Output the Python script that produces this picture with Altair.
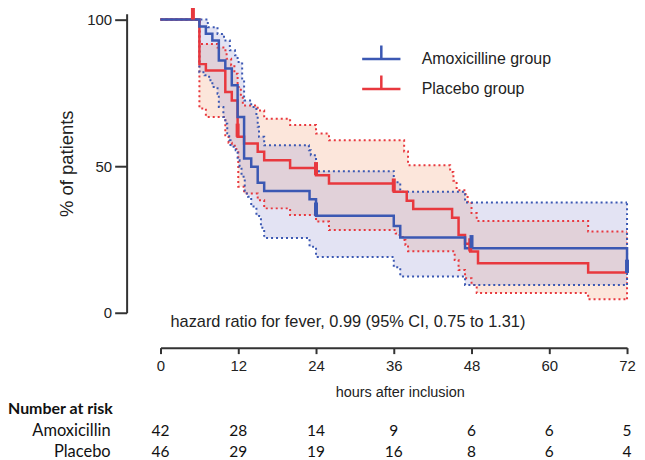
import altair as alt
import pandas as pd

# ---------------- data ----------------
# Kaplan-Meier step curves: hours after inclusion -> % of patients
amox_t = [0, 6, 7, 8, 9, 10, 11, 11.9, 12.9, 14, 15, 16, 23, 24, 36, 37, 47, 72]
amox_s = [100, 97.6, 95.2, 92.9, 86.0, 83.3, 77.6, 66.8, 52.6, 49.8, 44.3, 41.5, 38.7, 33.1, 29.6, 25.7, 22.0, 13.6]

plac_t = [0, 6, 7, 10, 11, 11.9, 12.9, 15, 16, 20, 24, 26, 36, 38, 39, 45, 46, 47, 47.8, 49, 66, 72]
plac_s = [100, 84.8, 82.6, 75.3, 72.4, 60.0, 57.7, 54.9, 52.0, 49.4, 46.9, 44.1, 41.3, 38.2, 35.4, 32.4, 26.5, 23.5, 20.9, 16.9, 13.7, 13.7]

# 95% confidence bands (step functions)
amox_hi_t = [0, 7.3, 8.8, 9.8, 10.7, 11.5, 11.9, 12.6, 12.9, 14, 14.8, 15, 15.2, 16, 22.9, 23.2, 24, 36, 37, 47, 72]
amox_hi_v = [100, 97.4, 95.1, 92.9, 89.5, 87.8, 85.5, 79.3, 72.4, 70.2, 67.3, 63.4, 60.0, 57.1, 55.4, 53.7, 48.3, 44.5, 41.3, 37.6, 37.6]
amox_lo_t = [0, 6, 6.8, 7.5, 8, 8.8, 9, 9.7, 10, 10.3, 10.6, 10.8, 11.6, 11.9, 12.2, 12.5, 13, 13.5, 14, 14.8, 15.5, 16, 23, 24, 36, 37, 47, 72]
amox_lo_v = [100, 82, 81, 79.3, 77, 74.7, 70.2, 66.8, 64.5, 61.2, 58.8, 56.6, 55.4, 52, 49.8, 46.4, 40.7, 39.6, 36.2, 33, 29, 25.5, 22.5, 19, 15.5, 12.4, 9.5, 9.5]

plac_hi_t = [0, 6, 8.8, 9.7, 10.2, 10.9, 11.4, 11.9, 12.4, 12.7, 15, 16, 20, 24, 26, 37.6, 38.2, 44.7, 45.2, 45.7, 46.9, 47.4, 48, 48.8, 66, 72]
plac_hi_v = [100, 91.7, 90.5, 89.5, 86.6, 84.4, 81.5, 77, 73.6, 70.7, 69, 66.2, 64, 61.1, 58.8, 55, 50.3, 48, 45, 41.8, 40.5, 37.9, 34, 31.3, 27.7, 27.7]
plac_lo_t = [0, 6, 7, 10, 10.5, 11, 11.7, 12, 12.9, 15, 16, 20, 24, 26, 36.3, 36.9, 37.4, 37.8, 38.2, 45.4, 46, 47, 48, 48.8, 66, 72]
plac_lo_v = [100, 69.7, 66.8, 60.5, 58, 57, 55.4, 43, 40.7, 38.4, 35.6, 33.3, 31.1, 28.2, 27, 25.8, 24.8, 23.1, 21, 18, 14.6, 11.8, 9.5, 6.7, 4.6, 4.6]

# censored observations (tick marks)
amox_cens_t = [24, 48, 72]
amox_cens_s = [33.1, 22.0, 13.6]
plac_cens_t = [5, 11.9, 24, 36, 47.8]
plac_cens_s = [100, 60.0, 46.9, 41.3, 20.9]

# number at risk table
risk_times = [0, 12, 24, 36, 48, 60, 72]
amox_risk = [42, 28, 14, 9, 6, 6, 5]
plac_risk = [46, 29, 19, 16, 8, 6, 4]

AMOX = "Amoxicilline group"
PLAC = "Placebo group"
hazard_text = "hazard ratio for fever, 0.99 (95% CI, 0.75 to 1.31)"

# ---------------- styles ----------------
BLUE = "#3b58b3"
RED = "#e8383e"
BLUE_FILL = "#9b9bd3"
RED_FILL = "#f3a77f"
FONT = "Liberation Sans"
TFONT = "Lato"


def step_at(ts, vs, x):
    v = vs[0]
    for t, val in zip(ts, vs):
        if t <= x:
            v = val
    return v


def band(group, lo_t, lo_v, hi_t, hi_v):
    xs = sorted(set(lo_t) | set(hi_t))
    return pd.DataFrame({
        "group": group,
        "t": xs,
        "lo": [step_at(lo_t, lo_v, x) for x in xs],
        "hi": [step_at(hi_t, hi_v, x) for x in xs],
    })


def curve(group, ts, vs):
    return pd.DataFrame({"group": group, "t": ts, "s": vs})


amox_df = curve(AMOX, amox_t, amox_s)
plac_df = curve(PLAC, plac_t, plac_s)
amox_band = band(AMOX, amox_lo_t, amox_lo_v, amox_hi_t, amox_hi_v)
plac_band = band(PLAC, plac_lo_t, plac_lo_v, plac_hi_t, plac_hi_v)
amox_cens = curve(AMOX, amox_cens_t, amox_cens_s)
plac_cens = curve(PLAC, plac_cens_t, plac_cens_s)

xs = alt.Scale(domain=[0, 72], nice=False, zero=False)
ys = alt.Scale(domain=[0, 102], nice=False)

xaxis = alt.Axis(values=risk_times, title="hours after inclusion", offset=35,
                 tickSize=6, tickWidth=2, tickColor="#333", domainColor="#333",
                 domainWidth=2, labelFontSize=15, labelPadding=5, labelColor="#222",
                 labelFont=FONT, titleFont=FONT, titleFontSize=14.5,
                 titleFontWeight="normal", titleColor="#222", titleX=240, titleY=45,
                 titleBaseline="middle", grid=False, labelFlush=False)
yaxis = alt.Axis(values=[0, 50, 100], title="% of patients", offset=34,
                 tickSize=12, tickWidth=2, tickColor="#333", domainColor="#333",
                 domainWidth=2, labelFontSize=15, labelPadding=3, labelColor="#222",
                 labelFont=FONT, titleFont=FONT, titleFontSize=18.5,
                 titleFontWeight="normal", titleColor="#222", titleX=-60, titleY=150,
                 titleAlign="center", titleBaseline="middle", grid=False)

legend = alt.Legend(orient="none", legendX=204, legendY=28, title=None,
                    symbolType="M-1.2,0H1.2M0,0V-0.85", symbolSize=1024,
                    symbolStrokeWidth=2.5, labelOffset=23, labelFontSize=16,
                    labelFont=FONT, labelColor="#222", padding=0, rowPadding=2)
color = alt.Color("group:N", scale=alt.Scale(domain=[AMOX, PLAC], range=[BLUE, RED]),
                  legend=legend)

X = alt.X("t:Q", scale=xs, axis=xaxis)


def area(df, fill):
    return alt.Chart(df).mark_area(interpolate="step-after", color=fill, opacity=0.28).encode(
        x=X, y=alt.Y("lo:Q", scale=ys, axis=yaxis), y2="hi:Q")


def ci_line(df, field, col):
    return alt.Chart(df).mark_line(interpolate="step-after", color=col, strokeWidth=2,
                                   strokeDash=[2, 3]).encode(
        x=X, y=alt.Y(f"{field}:Q", scale=ys, axis=yaxis))


def close_rule(df, col):
    return alt.Chart(df).transform_filter("datum.t == 72").mark_rule(
        color=col, strokeWidth=2, strokeDash=[2, 3]).encode(
        x=X, y=alt.Y("lo:Q", scale=ys, axis=yaxis), y2="hi:Q")


def km_line(df):
    return alt.Chart(df).mark_line(interpolate="step-after", strokeWidth=2.5).encode(
        x=X, y=alt.Y("s:Q", scale=ys, axis=yaxis), color=color)


def cens(df, col):
    return alt.Chart(df).transform_calculate(top="datum.s + 4.5").mark_rule(
        color=col, strokeWidth=4).encode(
        x=X, y=alt.Y("s:Q", scale=ys, axis=yaxis), y2="top:Q")


risk_df_a = pd.DataFrame({"t": risk_times, "n": amox_risk})
risk_df_p = pd.DataFrame({"t": risk_times, "n": plac_risk})


def risk_row(df, ypix):
    return alt.Chart(df).mark_text(font=TFONT, fontSize=15.5, color="#111",
                                   baseline="middle").encode(
        x=X, y=alt.value(ypix), text="n:Q")


labels_df = pd.DataFrame({"label": ["Number at risk", "Amoxicillin", "Placebo"],
                          "row": [0, 1, 2]})

header = alt.Chart(labels_df).transform_filter("datum.row == 0").mark_text(
    font=TFONT, fontSize=16, fontWeight="bold", color="#111", align="left",
    baseline="middle").encode(x=alt.value(-153), y=alt.value(397), text="label:N")
row1 = alt.Chart(labels_df).transform_filter("datum.row == 1").mark_text(
    font=TFONT, fontSize=16.5, color="#111", align="right",
    baseline="middle").encode(x=alt.value(-50), y=alt.value(419), text="label:N")
row2 = alt.Chart(labels_df).transform_filter("datum.row == 2").mark_text(
    font=TFONT, fontSize=16.5, color="#111", align="right",
    baseline="middle").encode(x=alt.value(-50), y=alt.value(440), text="label:N")

hazard = alt.Chart(pd.DataFrame({"txt": [hazard_text]})).mark_text(
    font=FONT, fontSize=16.4, color="#222", align="left", baseline="middle").encode(
    x=alt.value(10), y=alt.value(309), text="txt:N")

chart = alt.layer(
    area(plac_band, RED_FILL),
    area(amox_band, BLUE_FILL),
    ci_line(plac_band, "lo", RED), ci_line(plac_band, "hi", RED),
    ci_line(amox_band, "lo", BLUE), ci_line(amox_band, "hi", BLUE),
    close_rule(plac_band, RED), close_rule(amox_band, BLUE),
    km_line(plac_df), km_line(amox_df),
    cens(plac_cens, RED), cens(amox_cens, BLUE),
    hazard, header, row1, row2,
    risk_row(risk_df_a, 419), risk_row(risk_df_p, 440),
).properties(
    width=468, height=300,
    autosize=alt.AutoSizeParams(type="none"),
    padding={"left": 153, "top": 5, "right": 10, "bottom": 147},
    background="white",
).configure_view(strokeWidth=0)

chart.save("out.html", embed_options={"renderer": "svg", "actions": False})
